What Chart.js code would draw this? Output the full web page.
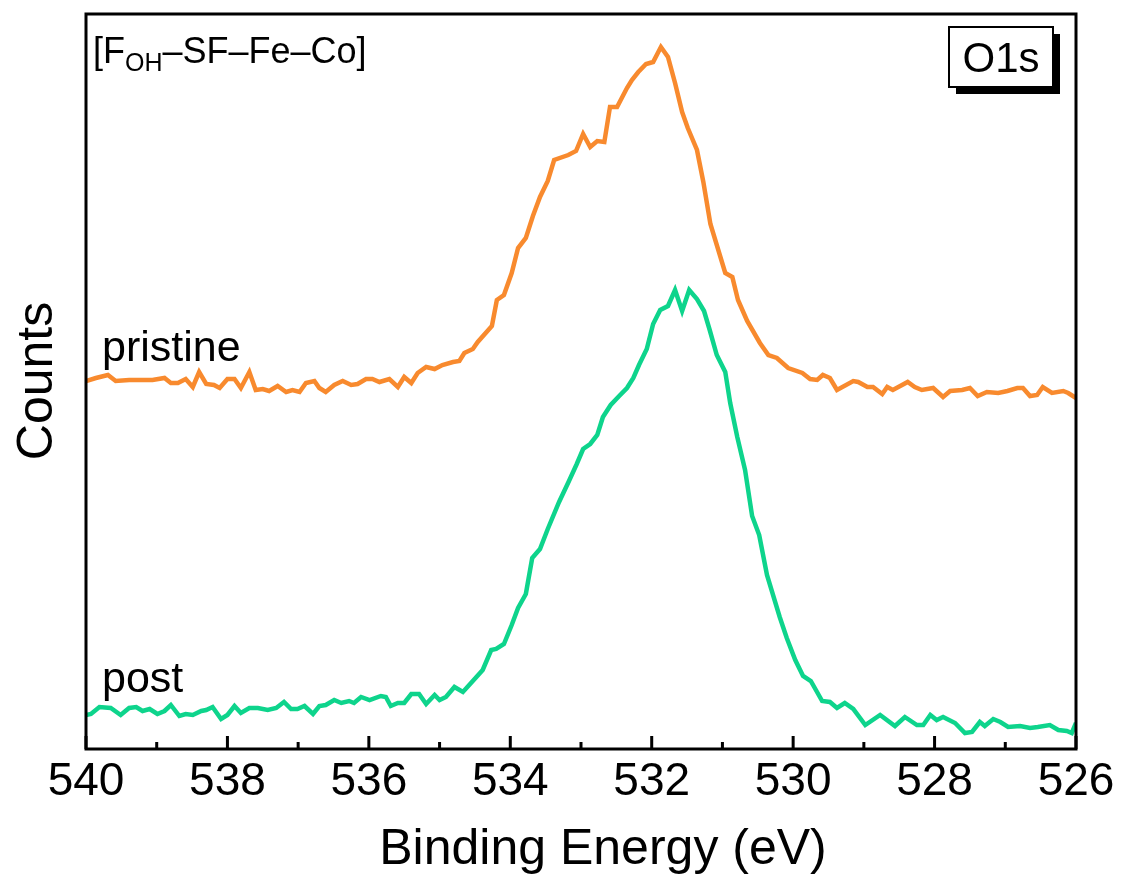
<!DOCTYPE html>
<html>
<head>
<meta charset="utf-8">
<script src="https://cdn.jsdelivr.net/npm/chart.js@4"></script>
<style>
  html, body { margin: 0; padding: 0; background: #fff; }
  #wrap { width: 1121px; height: 878px; }
</style>
</head>
<body>
<div id="wrap"><canvas id="xps"></canvas></div>
<script>
// O1s XPS spectra (counts in arbitrary units)
const xMajorTicks = [540, 538, 536, 534, 532, 530, 528, 526];
const xMinorTicks = [539, 537, 535, 533, 531, 529, 527];

const pristineEnergy = [
  540.00, 539.86, 539.69, 539.58, 539.39, 539.22, 539.06, 538.89, 538.80, 538.70,
  538.59, 538.49, 538.40, 538.30, 538.19, 538.11, 538.00, 537.90, 537.81, 537.69,
  537.60, 537.50, 537.41, 537.29, 537.17, 537.08, 536.98, 536.89, 536.77, 536.70,
  536.61, 536.49, 536.37, 536.25, 536.16, 536.04, 535.95, 535.85, 535.71, 535.59,
  535.50, 535.40, 535.31, 535.19, 535.07, 534.96, 534.81, 534.72, 534.65, 534.53,
  534.46, 534.26, 534.19, 534.09, 533.98, 533.89, 533.78, 533.68, 533.58, 533.47,
  533.38, 533.18, 533.07, 532.97, 532.87, 532.77, 532.67, 532.59, 532.49, 532.35,
  532.28, 532.19, 532.08, 531.98, 531.87, 531.77, 531.67, 531.57, 531.49, 531.36,
  531.27, 531.17, 530.96, 530.86, 530.78, 530.65, 530.47, 530.35, 530.23, 530.07,
  529.87, 529.76, 529.66, 529.58, 529.48, 529.38, 529.15, 529.08, 528.95, 528.87,
  528.74, 528.67, 528.59, 528.38, 528.28, 528.18, 528.02, 527.88, 527.78, 527.61,
  527.50, 527.39, 527.26, 527.10, 526.97, 526.83, 526.75, 526.65, 526.55, 526.47,
  526.34, 526.18, 526.11, 526.00
];
const pristineCounts = [
  368, 371, 374, 368, 369, 369, 369, 371, 366, 366,
  370, 362, 377, 365, 364, 361, 370, 370, 361, 377,
  359, 360, 358, 363, 357, 359, 357, 366, 368, 361,
  357, 364, 368, 364, 365, 370, 370, 367, 370, 362,
  372, 366, 376, 382, 380, 384, 387, 388, 396, 400,
  407, 423, 449, 454, 476, 501, 511, 533, 552, 568,
  589, 594, 598, 615, 602, 608, 607, 642, 642, 661,
  669, 677, 685, 687, 702, 692, 666, 637, 621, 599,
  567, 525, 476, 472, 449, 428, 406, 394, 391, 381,
  376, 370, 369, 374, 371, 359, 368, 367, 362, 362,
  355, 362, 359, 367, 362, 359, 361, 352, 358, 359,
  361, 353, 357, 356, 358, 361, 361, 353, 354, 362,
  356, 358, 356, 351
];

const postEnergy = [
  540.00, 539.93, 539.81, 539.65, 539.51, 539.39, 539.29, 539.20, 539.10, 538.99,
  538.89, 538.80, 538.68, 538.59, 538.49, 538.37, 538.30, 538.21, 538.09, 538.00,
  537.90, 537.81, 537.69, 537.57, 537.43, 537.31, 537.20, 537.10, 537.01, 536.91,
  536.79, 536.70, 536.61, 536.49, 536.39, 536.28, 536.21, 536.11, 535.99, 535.83,
  535.76, 535.69, 535.59, 535.50, 535.40, 535.29, 535.19, 535.07, 535.00, 534.91,
  534.79, 534.67, 534.53, 534.39, 534.27, 534.20, 534.09, 533.98, 533.89, 533.78,
  533.69, 533.58, 533.47, 533.31, 533.17, 533.06, 532.97, 532.87, 532.77, 532.69,
  532.58, 532.46, 532.35, 532.26, 532.18, 532.07, 531.98, 531.88, 531.77, 531.67,
  531.57, 531.47, 531.36, 531.26, 531.18, 531.08, 530.96, 530.89, 530.79, 530.68,
  530.58, 530.48, 530.37, 530.19, 530.09, 529.97, 529.86, 529.75, 529.59, 529.48,
  529.38, 529.27, 529.15, 528.98, 528.77, 528.56, 528.42, 528.25, 528.16, 528.06,
  527.97, 527.88, 527.71, 527.57, 527.47, 527.36, 527.29, 527.17, 527.07, 526.96,
  526.79, 526.65, 526.54, 526.37, 526.25, 526.13, 526.06, 526.00
];
const postCounts = [
  34, 35, 42, 41, 34, 41, 42, 38, 40, 35,
  38, 44, 33, 35, 34, 38, 39, 42, 30, 34,
  43, 36, 41, 41, 39, 41, 47, 40, 40, 43,
  35, 43, 44, 49, 46, 48, 46, 52, 49, 53,
  52, 43, 46, 46, 55, 55, 45, 54, 49, 52,
  62, 57, 68, 79, 99, 100, 105, 124, 141, 155,
  191, 200, 220, 247, 268, 285, 300, 305, 314, 332,
  344, 353, 361, 371, 384, 400, 425, 439, 443, 459,
  438, 459, 450, 438, 419, 394, 377, 346, 312, 279,
  233, 214, 174, 132, 111, 89, 73, 68, 48, 47,
  41, 46, 40, 24, 34, 23, 32, 24, 24, 34,
  29, 32, 26, 16, 17, 27, 23, 30, 27, 22,
  23, 21, 22, 24, 19, 18, 16, 26
];

const FONT = '"Liberation Sans", Arial, Helvetica, sans-serif';
const ORANGE = 'rgb(248, 138, 46)';
const GREEN = 'rgb(14, 212, 140)';

function toPoints(energy, counts) {
  return energy.map((e, i) => ({ x: e, y: counts[i] }));
}

// frame, inward ticks and all the loose text
const decorPlugin = {
  id: 'decor',
  afterDraw(chart) {
    const { ctx, chartArea: a } = chart;
    const x = chart.scales.x;
    ctx.save();

    ctx.strokeStyle = '#000';
    ctx.lineWidth = 3;
    ctx.strokeRect(a.left, a.top, a.right - a.left, a.bottom - a.top);

    ctx.lineWidth = 3;
    ctx.beginPath();
    xMajorTicks.forEach(v => {
      const px = x.getPixelForValue(v);
      ctx.moveTo(px, a.bottom);
      ctx.lineTo(px, a.bottom - 13);
    });
    xMinorTicks.forEach(v => {
      const px = x.getPixelForValue(v);
      ctx.moveTo(px, a.bottom);
      ctx.lineTo(px, a.bottom - 7);
    });
    ctx.stroke();

    ctx.fillStyle = '#000';
    ctx.textBaseline = 'alphabetic';

    // axis titles
    ctx.font = '50px ' + FONT;
    ctx.textAlign = 'center';
    ctx.fillText('Binding Energy (eV)', 603, 864);
    ctx.save();
    ctx.translate(52, 381);
    ctx.rotate(-Math.PI / 2);
    ctx.fillText('Counts', 0, 0);
    ctx.restore();

    // series labels
    ctx.textAlign = 'left';
    ctx.font = '43px ' + FONT;
    ctx.fillText('pristine', 102, 361);
    ctx.fillText('post', 102, 692);

    // sample name with subscript
    let tx = 93;
    ctx.font = '36px ' + FONT;
    ctx.fillText('[F', tx, 63);
    tx += ctx.measureText('[F').width;
    ctx.font = '25px ' + FONT;
    ctx.fillText('OH', tx, 71);
    tx += ctx.measureText('OH').width;
    ctx.font = '36px ' + FONT;
    ctx.fillText('\u2013SF\u2013Fe\u2013Co]', tx, 63);

    // O1s box with drop shadow
    ctx.fillStyle = '#000';
    ctx.fillRect(956, 34, 104, 60);
    ctx.fillStyle = '#fff';
    ctx.fillRect(949, 27, 104, 60);
    ctx.lineWidth = 2;
    ctx.strokeRect(949, 27, 104, 60);
    ctx.fillStyle = '#000';
    ctx.font = '42px ' + FONT;
    ctx.textAlign = 'center';
    ctx.fillText('O1s', 1001, 72);

    ctx.restore();
  }
};

new Chart(document.getElementById('xps'), {
  type: 'line',
  data: {
    datasets: [
      {
        label: 'pristine',
        data: toPoints(pristineEnergy, pristineCounts),
        borderColor: ORANGE,
        borderWidth: 4.5,
        pointRadius: 0,
        tension: 0,
        fill: false
      },
      {
        label: 'post',
        data: toPoints(postEnergy, postCounts),
        borderColor: GREEN,
        borderWidth: 4.5,
        pointRadius: 0,
        tension: 0,
        fill: false
      }
    ]
  },
  options: {
    responsive: true,
    maintainAspectRatio: false,
    animation: false,
    layout: { padding: { left: 86, right: 45, top: 14, bottom: 0 } },
    plugins: {
      legend: { display: false },
      tooltip: { enabled: false }
    },
    scales: {
      x: {
        type: 'linear',
        reverse: true,
        min: 526,
        max: 540,
        grid: { display: false, drawTicks: false },
        border: { display: false },
        afterFit: s => { s.height = 129; },
        afterBuildTicks: s => { s.ticks = xMajorTicks.map(v => ({ value: v })); },
        ticks: {
          color: '#000',
          padding: 6,
          maxRotation: 0,
          autoSkip: false,
          font: { family: FONT, size: 46 },
          callback: v => String(v)
        }
      },
      y: {
        display: false,
        min: 0,
        max: 735
      }
    }
  },
  plugins: [decorPlugin]
});
</script>
</body>
</html>
